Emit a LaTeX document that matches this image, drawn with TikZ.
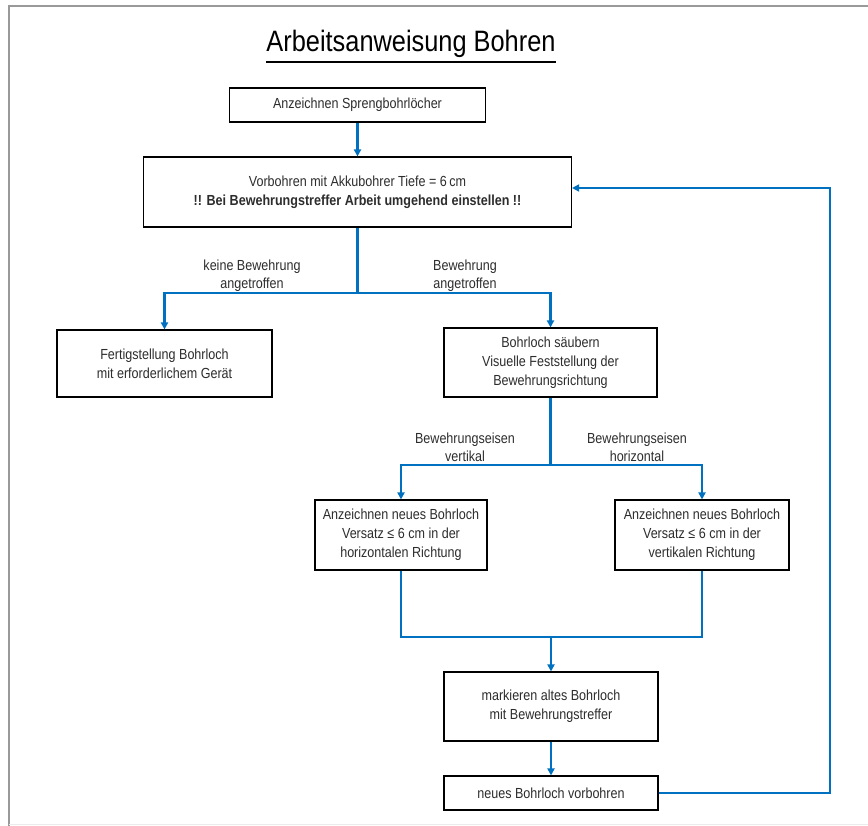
\documentclass[tikz,border=0pt]{standalone}
\usepackage{fontspec}
\setmainfont{Liberation Sans}[FakeStretch=0.86]
\usetikzlibrary{arrows.meta}
\definecolor{flowblue}{RGB}{0,112,192}
\definecolor{txtgray}{RGB}{45,45,45}
\begin{document}
\begin{tikzpicture}[x=1pt,y=-1pt,
  box/.style={draw=black,line width=1.1pt,fill=white,align=center,
    inner sep=0pt,font=\fontsize{14.6}{19}\selectfont,text=txtgray},
  flow/.style={draw=flowblue,line width=2.2pt},
  flowarr/.style={flow,-{Triangle[length=7pt,width=7pt]}},
  lbl/.style={align=center,font=\fontsize{14.6}{18}\selectfont,text=txtgray}]
\useasboundingbox (0,0) rectangle (868,826);
% page frame
\draw[draw=black!40,line width=2pt] (9,826) -- (9,6) -- (868,6);
\draw[draw=black!8,line width=1pt] (9,824) -- (868,824);
% title
\node[font=\fontsize{29.5}{32}\selectfont,text=black,inner sep=0pt] (title) at (411,44) {Arbeitsanweisung Bohren};
\draw[line width=2pt] (title.south west)++(0,4) coordinate (ul1) -- (title.south east|-ul1);
% process boxes
\node[box,minimum width=256pt,minimum height=34pt] (b1) at (357.5,105) {Anzeichnen Sprengbohrlöcher};
\node[box,minimum width=428pt,minimum height=70pt] (b2) at (357.5,192)
  {Vorbohren mit Akkubohrer Tiefe = 6\,cm\\\textbf{!! Bei Bewehrungstreffer Arbeit umgehend einstellen !!}};
\node[box,minimum width=215pt,minimum height=67pt] (b3) at (164.5,363.5)
  {Fertigstellung Bohrloch\\mit erforderlichem Gerät};
\node[box,minimum width=213pt,minimum height=69pt] (b4) at (550.5,362.5)
  {Bohrloch säubern\\Visuelle Feststellung der\\Bewehrungsrichtung};
\node[box,minimum width=172pt,minimum height=70pt] (b5) at (401,535)
  {Anzeichnen neues Bohrloch\\Versatz ≤ 6 cm in der\\horizontalen Richtung};
\node[box,minimum width=174pt,minimum height=70pt] (b6) at (702,535)
  {Anzeichnen neues Bohrloch\\Versatz ≤ 6 cm in der\\vertikalen Richtung};
\node[box,minimum width=214pt,minimum height=69pt] (b7) at (551,706.5)
  {markieren altes Bohrloch\\mit Bewehrungstreffer};
\node[box,minimum width=214pt,minimum height=34pt] (b8) at (551,793)
  {neues Bohrloch vorbohren};
% branch labels
\node[lbl] (l1) at (252,276) {keine Bewehrung\\angetroffen};
\node[lbl] (l2) at (465,276) {Bewehrung\\angetroffen};
\node[lbl] (l3) at (465,447) {Bewehrungseisen\\vertikal};
\node[lbl] (l4) at (637,447) {Bewehrungseisen\\horizontal};
% junction points
\coordinate (j1) at (357.5,293);
\coordinate (j2) at (550.5,465);
\coordinate (j3) at (551,637);
\coordinate (jr) at (830,188);
% connectors
\draw[flowarr] (b1.south) -- (b2.north);
\draw[flow] (b2.south) -- (j1);
\draw[flowarr] (j1) -| (b3.north);
\draw[flowarr] (j1) -| (b4.north);
\draw[flow] (b4.south) -- (j2);
\draw[flowarr] (j2) -| (b5.north);
\draw[flowarr] (j2) -| (b6.north);
\draw[flow] (b5.south) |- (j3);
\draw[flow] (b6.south) |- (j3);
\draw[flowarr] (j3) -- (b7.north);
\draw[flowarr] (b7.south) -- (b8.north);
\draw[flowarr] (b8.east) -| (jr) -- (b2.east|-jr);
\end{tikzpicture}
\end{document}
